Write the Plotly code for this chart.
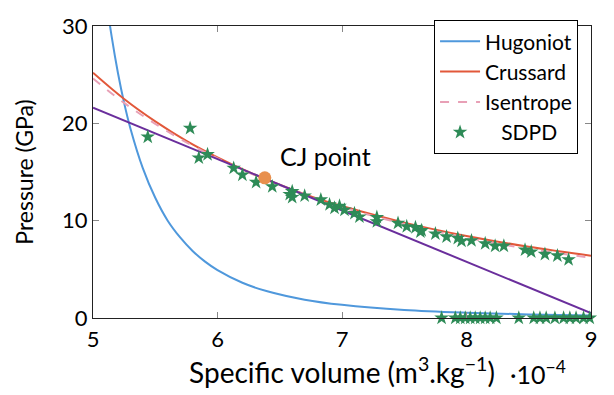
import plotly.graph_objects as go

# ---- data (x in units of 1e-4 m^3/kg, pressure in GPa) ----
hug_v = [5.10, 5.15, 5.20, 5.25, 5.30, 5.40, 5.50, 5.60, 5.70, 5.80, 5.90, 6.00, 6.20, 6.40, 6.70, 7.00, 7.50, 8.00, 8.50, 9.00]
hug_p = [33.3, 28.9, 25.2, 22.1, 19.5, 15.4, 12.35, 10.0, 8.28, 6.89, 5.79, 4.92, 3.62, 2.74, 1.88, 1.35, 0.82, 0.54, 0.37, 0.26]

cru_v = [5.0, 5.25, 5.5, 5.75, 6.0, 6.25, 6.5, 6.75, 7.0, 7.5, 8.0, 8.5, 9.0]
cru_p = [25.2, 22.5, 20.2, 18.2, 16.5, 15.0, 13.7, 12.5, 11.5, 9.8, 8.43, 7.32, 6.4]

ise_v = [5.0, 5.25, 5.5, 5.75, 6.0, 6.25, 6.5, 6.75, 7.0, 7.5, 8.0, 8.5, 9.0]
ise_p = [24.6, 22.1, 19.95, 18.05, 16.4, 14.95, 13.65, 12.45, 11.4, 9.65, 8.25, 7.1, 6.2]

ray_v = [5.0, 9.0]
ray_p = [21.6, 0.5]

cj_v = [6.38]
cj_p = [14.4]

sdpd_v = [5.44, 5.78, 5.85, 5.92, 6.13, 6.20, 6.31, 6.44, 6.58, 6.60, 6.60, 6.70, 6.83, 6.90,
          6.94, 6.98, 7.02, 7.10, 7.14, 7.28, 7.28, 7.45, 7.52, 7.59, 7.63, 7.64, 7.75, 7.84,
          7.93, 7.96, 8.04, 8.15, 8.23, 8.30, 8.47, 8.52, 8.63, 8.73, 8.82,
          7.80, 7.91, 7.95, 7.99, 8.03, 8.07, 8.11, 8.15, 8.19, 8.24, 8.42, 8.54, 8.59, 8.64,
          8.71, 8.78, 8.83, 8.88, 8.94, 8.99]
sdpd_p = [18.6, 19.5, 16.45, 16.8, 15.4, 14.7, 13.95, 13.5, 12.7, 13.0, 12.4, 12.55, 12.15, 11.65,
          11.3, 11.5, 11.1, 10.75, 10.4, 10.35, 9.9, 9.75, 9.4, 9.3, 8.85, 9.0, 8.65, 8.35,
          8.2, 7.9, 7.95, 7.65, 7.4, 7.4, 7.0, 6.8, 6.55, 6.4, 6.0,
          0, 0, 0, 0, 0, 0, 0, 0, 0, 0, 0, 0, 0, 0,
          0, 0, 0, 0, 0, 0]

x_ticks = [5, 6, 7, 8, 9]
y_ticks = [0, 10, 20, 30]

FONT = "Lato"
fig = go.Figure()

fig.add_trace(go.Scatter(x=hug_v, y=hug_p, mode="lines", name="Hugoniot",
                         line=dict(color="#4f98dc", width=2, shape="spline")))
fig.add_trace(go.Scatter(x=cru_v, y=cru_p, mode="lines", name="Crussard",
                         line=dict(color="#e2583a", width=2, shape="spline")))
fig.add_trace(go.Scatter(x=ise_v, y=ise_p, mode="lines", name="Isentrope",
                         line=dict(color="#e8a0b6", width=2, dash="dash", shape="spline")))
fig.add_trace(go.Scatter(x=ray_v, y=ray_p, mode="lines", showlegend=False,
                         line=dict(color="#6a2e9c", width=2)))
fig.add_trace(go.Scatter(x=sdpd_v, y=sdpd_p, mode="markers", name="\u00a0\u00a0\u00a0SDPD",
                         marker=dict(symbol="star", size=11, color="#2e8b57",
                                     line=dict(color="#2e8b57", width=0)),
                         cliponaxis=False))
fig.add_trace(go.Scatter(x=cj_v, y=cj_p, mode="markers", showlegend=False,
                         marker=dict(symbol="circle", size=13, color="#e8904e")))

fig.add_annotation(x=6.865, y=16.6, text="CJ point", showarrow=False,
                   font=dict(family=FONT, size=25, color="black"), xanchor="center", yanchor="middle")
fig.add_annotation(x=(568 - 93) / 498, y=(318 - 375) / 304, xref="paper", yref="paper",
                   text="\u00b710<sup>\u22124</sup>",
                   showarrow=False, xanchor="right", yanchor="middle",
                   font=dict(family=FONT, size=25, color="black"))

axis_common = dict(showline=True, linecolor="#222", linewidth=1, mirror="allticks",
                   ticks="inside", ticklen=6, tickcolor="#888", showgrid=False, zeroline=False,
                   ticklabeloverflow="allow",
                   tickfont=dict(family=FONT, size=22, color="black"))

fig.update_xaxes(range=[5, 9], tickvals=x_ticks, ticktext=[str(t) for t in x_ticks],
                 ticklabelstandoff=2,
                 title=dict(text="Specific volume (m<sup>3</sup>.kg<sup>\u22121</sup>)",
                            font=dict(family=FONT, size=28, color="black"), standoff=4),
                 **axis_common)
fig.update_yaxes(range=[0, 30], tickvals=y_ticks, ticktext=[str(t) for t in y_ticks],
                 title=dict(text="Pressure (GPa)", font=dict(family=FONT, size=23, color="black"),
                            standoff=22),
                 **axis_common)

fig.update_layout(
    width=614, height=395,
    margin=dict(l=93, r=23, t=14, b=77),
    paper_bgcolor="white", plot_bgcolor="white",
    font=dict(family=FONT, size=20, color="black"),
    legend=dict(x=0.974, y=1.02, xanchor="right", yanchor="top",
                bordercolor="black", borderwidth=1, bgcolor="white",
                font=dict(family=FONT, size=21, color="black"),
                tracegroupgap=0, itemwidth=40),
)

fig.write_html("out.html")
